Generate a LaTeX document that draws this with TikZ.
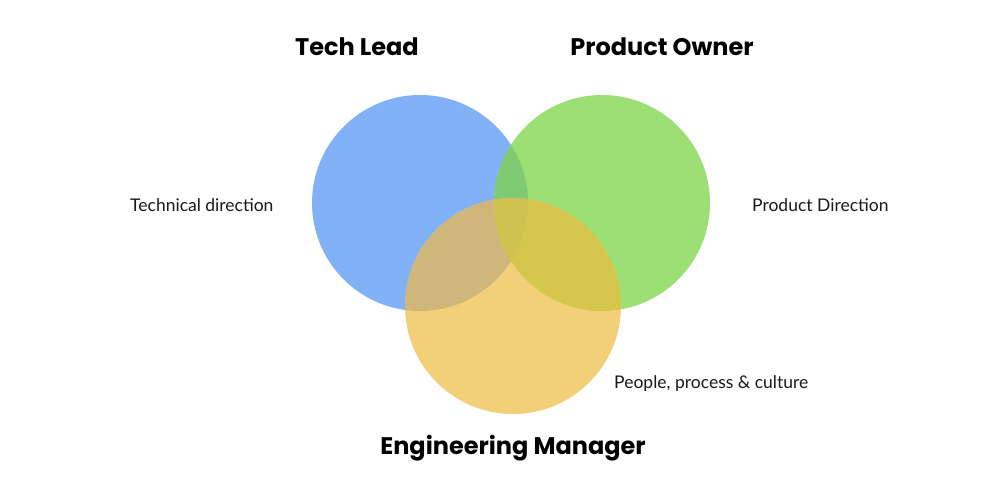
\documentclass[tikz,border=0pt]{standalone}
\usepackage{fontspec}
\setmainfont{Lato}
\newfontfamily\titlefont{Poppins}
\definecolor{cblue}{HTML}{82B1F7}
\definecolor{cgreen}{HTML}{9BDF75}
\definecolor{cyellow}{HTML}{F2CF79}
\definecolor{cbg}{HTML}{7FCB74}
\definecolor{cby}{HTML}{CFB77B}
\definecolor{cgy}{HTML}{D5C74E}
\definecolor{cbgy}{HTML}{D0C250}
\begin{document}
\begin{tikzpicture}[x=1pt,y=-1pt,
  title/.style={font=\titlefont\bfseries\fontsize{24}{29}\selectfont, inner sep=0pt, anchor=base},
  lbl/.style={font=\fontsize{17.5}{21}\selectfont, inner sep=0pt, text=black!90, anchor=base west}]
\useasboundingbox[fill=white] (0,0) rectangle (1000,500);
\def\R{108}
\coordinate (B) at (420,203);
\coordinate (G) at (602,203);
\coordinate (Y) at (513,306);
\fill[cblue] (B) circle (\R);
\fill[cgreen] (G) circle (\R);
\fill[cyellow] (Y) circle (\R);
\begin{scope}
  \clip (B) circle (\R);
  \fill[cbg] (G) circle (\R);
  \fill[cby] (Y) circle (\R);
\end{scope}
\begin{scope}
  \clip (G) circle (\R);
  \fill[cgy] (Y) circle (\R);
  \clip (B) circle (\R);
  \fill[cbgy] (Y) circle (\R);
\end{scope}
\node[title] (tl) at (357,55.5) {Tech Lead};
\node[title] (po) at (662,55.5) {Product Owner};
\node[title] (em) at (513,454) {Engineering Manager};
\node[lbl] (td) at (130,211) {Technical direction};
\node[lbl] (pd) at (752,211) {Product Direction};
\node[lbl] (pp) at (614,388) {People, process \& culture};
\end{tikzpicture}
\end{document}
